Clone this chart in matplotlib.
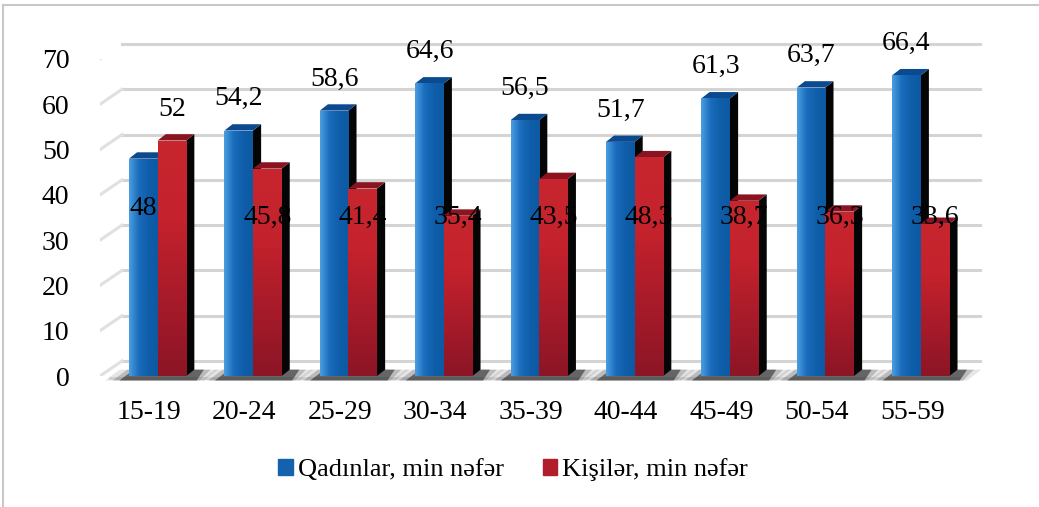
import numpy as np
from matplotlib import pyplot as plt
from matplotlib.patches import Polygon, Patch
from matplotlib.transforms import offset_copy
from matplotlib.lines import Line2D
from matplotlib.colors import LinearSegmentedColormap
from matplotlib.font_manager import FontProperties

categories = ["15-19", "20-24", "25-29", "30-34", "35-39", "40-44", "45-49", "50-54", "55-59"]
women = [48, 54.2, 58.6, 64.6, 56.5, 51.7, 61.3, 63.7, 66.4]
men = [52, 45.8, 41.4, 35.4, 43.5, 48.3, 38.7, 36.3, 33.6]
series_names = ["Qadınlar, min nəfər", "Kişilər, min nəfər"]
yticks = [0, 10, 20, 30, 40, 50, 60, 70]

FAM = ["Liberation Serif", "DejaVu Serif"]
plt.rcParams["font.family"] = FAM
FS = 20
fp = FontProperties(family=FAM, size=FS)
fp_leg = FontProperties(family=FAM, size=19)

blue_top = "#0b4a8e"
red_top = "#8a1420"
side = "#050505"
blue_cm = LinearSegmentedColormap.from_list("b", ["#4a9ee0", "#1a6cbc", "#0f5eaa", "#0d5aa3"])
red_cm = LinearSegmentedColormap.from_list("r", ["#8c1526", "#a81b2a", "#c4222c", "#c8262f"])

fig = plt.figure(figsize=(10.39, 5.07), dpi=100)
ax = fig.add_axes([100 / 1039, 131 / 507, 858 / 1039, 317 / 507])
ax.set_xlim(-0.514, 8.48)
ax.set_ylim(0, 70)

x = np.arange(len(categories))
w = 0.3
off_b, off_r = -0.06, 0.24
dx, dy = 0.085, 1.4  # depth of the bars in data units

# back wall and side wall (perspective offset in pixels)
back = offset_copy(ax.transData, fig=fig, x=22, y=15, units="dots")
x0, x1 = ax.get_xlim()
for t in yticks:
    ax.plot([x0, x1], [t, t], color="#d4d4d4", lw=2.2, transform=back, clip_on=False, zorder=0)
    p_front = ax.transData.transform((x0, t))
    p_back = back.transform((x0, t))
    ax.add_line(Line2D([p_front[0], p_back[0]], [p_front[1], p_back[1]], transform=None,
                       color="#e0e0e0", lw=2.2, zorder=0))

# floor front edge
ax.plot([x0 + 0.1, x1], [-0.5, -0.5], color="#e4e4e4", lw=2, zorder=0, clip_on=False)

# floor shadows under each group (soft, a few layers)
for xi in x:
    l = xi + off_b - w / 2
    r = xi + off_r + w / 2 + dx
    for k, a in [(0.2, 0.1), (0.12, 0.2), (0.05, 0.5)]:
        ax.add_patch(Polygon([(l - k - 0.05, -1.0), (r + k * 0.5, -1.0), (r + k + 0.05, 1.4), (l - k + 0.1, 1.4)],
                             closed=True, color="#101010", alpha=a, lw=0, zorder=1, clip_on=False))


def bar3d(xc, h, cmap, top, horizontal):
    l, r = xc - w / 2, xc + w / 2
    ax.add_patch(Polygon([(r, 0), (r + dx, dy), (r + dx, h + dy), (r, h)], closed=True,
                         color=side, lw=0, zorder=2))
    ax.add_patch(Polygon([(l, h), (r, h), (r + dx, h + dy), (l + dx, h + dy)], closed=True,
                         color=top, lw=0, zorder=2))
    b = ax.bar(xc, h, width=w, color="none", lw=0, zorder=2)[0]
    g = np.linspace(0, 1, 64)
    grad = g[None, :] if horizontal else g[:, None]
    im = ax.imshow(grad, cmap=cmap, extent=(l, r, 0, h), origin="lower", aspect="auto", zorder=2.5,
                   interpolation="bilinear")
    im.set_clip_path(b)


for xi, a, b in zip(x, women, men):
    bar3d(xi + off_b, a, blue_cm, blue_top, True)
    bar3d(xi + off_r, b, red_cm, red_top, False)

ax.set_xlim(x0, x1)
ax.set_ylim(0, 70)


def fmt(v):
    s = f"{v:.1f}".replace(".", ",")
    return s[:-2] if s.endswith(",0") else s


for i, (a, b) in enumerate(zip(women, men)):
    if a > b:
        ax.text(x[i] + off_b, a + 7, fmt(a), ha="center", va="center", fontproperties=fp, zorder=5, clip_on=False)
        ax.text(x[i] + off_r, 35, fmt(b), ha="center", va="center", fontproperties=fp, zorder=5)
    else:
        ax.text(x[i] + off_b, 37, fmt(a), ha="center", va="center", fontproperties=fp, zorder=5)
        ax.text(x[i] + off_r, b + 6.8, fmt(b), ha="center", va="center", fontproperties=fp, zorder=5)

ax.set_xticks(x)
ax.set_xticklabels(categories, fontproperties=fp)
ax.set_yticks(yticks)
ax.set_yticklabels([str(t) for t in yticks], fontproperties=fp)
ax.tick_params(length=0)
ax.tick_params(axis="y", pad=22)
ax.tick_params(axis="x", pad=17)
for s in ax.spines.values():
    s.set_visible(False)
ax.patch.set_alpha(0)

# legend
handles = [Patch(color="#1462ae"), Patch(color="#b01e2b")]
fig.legend(handles, series_names, loc="center", bbox_to_anchor=(0.494, 0.073), ncol=2, frameon=False,
           prop=fp_leg, handlelength=0.55, handleheight=0.55, handletextpad=0.2, columnspacing=1.45)

# outer frame (top and left)
fig.add_artist(Line2D([3 / 1039, 1], [1 - 5 / 507, 1 - 5 / 507], transform=fig.transFigure, color="#c8c8c8", lw=1.5))
fig.add_artist(Line2D([3 / 1039, 3 / 1039], [0, 1 - 5 / 507], transform=fig.transFigure, color="#c8c8c8", lw=1.5))

fig.savefig("out.png", dpi=100)
